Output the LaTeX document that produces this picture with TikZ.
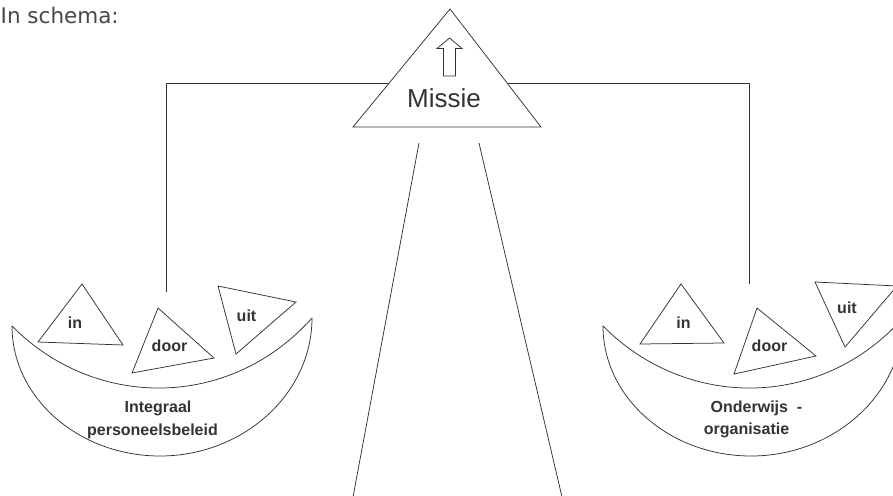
\documentclass[tikz,border=0pt]{standalone}
\usepackage{fontspec}
\setmainfont{Liberation Sans}
\newfontfamily\vfont{DejaVu Sans}
\definecolor{ink}{HTML}{333333}
\definecolor{txt}{HTML}{333333}
\tikzset{
  ln/.style={draw=ink, line width=0.75pt, line join=miter},
  shp/.style={draw=ink, line width=0.75pt, fill=white, line join=miter},
  lbl/.style={text=txt, inner sep=0pt, anchor=base, font=\bfseries\fontsize{16}{19}\selectfont},
  big/.style={text=txt, inner sep=0pt, anchor=base, font=\fontsize{26}{30}\selectfont},
}
\begin{document}
\begin{tikzpicture}[x=1pt,y=-1pt]
\useasboundingbox (0,0) rectangle (893,495);
\clip (0,0) rectangle (893,495);
\fill[white] (0,0) rectangle (893,495);

% title
\node[text=txt!90, inner sep=0pt, anchor=base west, font=\vfont\fontsize{21.5}{26}\selectfont] (title) at (0.5,24) {In schema:};

% beam and hangers
\coordinate (hl) at (166,292);
\coordinate (tl) at (166,83);
\coordinate (tr) at (749,83);
\coordinate (hr) at (749,284);
\draw[ln] (hl) -- (tl) -- (tr) -- (hr);

% column lines
\coordinate (cl1) at (419,143); \coordinate (cl2) at (353,497);
\coordinate (cr1) at (479,143); \coordinate (cr2) at (562,497);
\draw[ln] (cl1) -- (cl2);
\draw[ln] (cr1) -- (cr2);

% mission triangle
\draw[shp] (450,9) -- (541,127) -- (353,127) -- cycle;
\draw[ln] (449.5,38) -- (462,48.5) -- (455.5,48.5) -- (455.5,76) -- (443.5,76) -- (443.5,48.5) -- (437,48.5) -- cycle;
\node[big] (missie) at (444,107) {Missie};

% bowls
\foreach \s in {0,591}{
  \begin{scope}[xshift=\s pt]
  \draw[ln] (12,326) .. controls (95,410) and (230,410) .. (312,318);
  \draw[ln] (12,326) .. controls (12,398) and (79,456) .. (160,456)
                     .. controls (243,456) and (312,394) .. (312,318);
  \end{scope}
}

% left bowl triangles
\draw[shp] (82,284) -- (123,345) -- (38,342) -- cycle;
\draw[shp] (158,308) -- (214,358) -- (132,373) -- cycle;
\draw[shp] (218,286) -- (296,302) -- (236,354) -- cycle;
\node[lbl] (inL) at (75,328) {in};
\node[lbl] (doorL) at (169.5,351.5) {door};
\node[lbl] (uitL) at (246.5,321.5) {uit};
\node[lbl] (ipb1) at (158,412) {Integraal};
\node[lbl] (ipb2) at (152.5,435) {personeelsbeleid};

% right bowl triangles
\draw[shp] (681,284) -- (724,343) -- (640,344) -- cycle;
\draw[shp] (757,308) -- (816,356) -- (734,374) -- cycle;
\draw[shp] (815,282) -- (897,286) -- (845,347) -- cycle;
\node[lbl] (inR) at (683.5,328) {in};
\node[lbl] (doorR) at (769.5,351) {door};
\node[lbl] (uitR) at (847,313) {uit};
\node[lbl] (ond1) at (756.5,412) {Onderwijs\ \ -};
\node[lbl] (ond2) at (746.5,434) {organisatie};
\end{tikzpicture}
\end{document}
